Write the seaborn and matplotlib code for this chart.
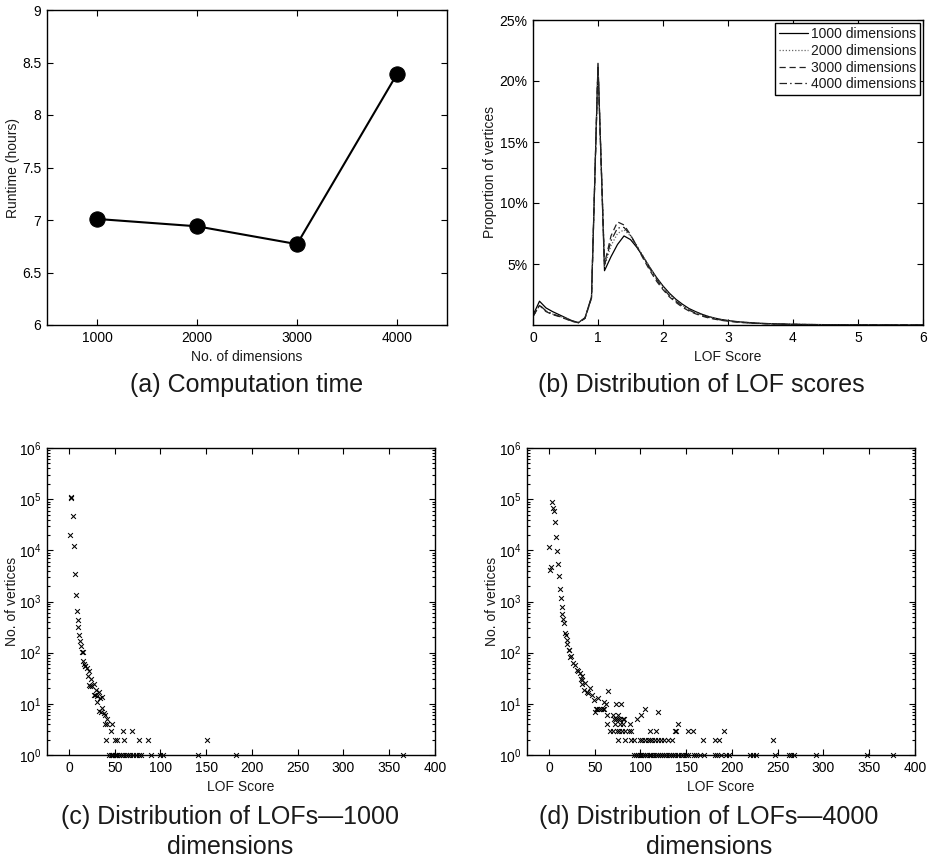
import numpy as np
import pandas as pd
import matplotlib
matplotlib.use("Agg")
import matplotlib.pyplot as plt
import seaborn as sns
from matplotlib.ticker import FuncFormatter, LogLocator, NullLocator

# ---------------- data ----------------
# (a) runtime versus dimensionality
dims = [1000, 2000, 3000, 4000]
runtime_hours = [7.01, 6.94, 6.77, 8.39]

# (b) LOF score histogram (bin centres, percentage of vertices)
lof_bins = [0.0, 0.1, 0.2, 0.3, 0.4, 0.5, 0.6, 0.7, 0.8, 0.9,
            1.0, 1.1, 1.2, 1.3, 1.4, 1.5, 1.6, 1.7, 1.8, 1.9,
            2.0, 2.1, 2.2, 2.3, 2.4, 2.5, 2.6, 2.7, 2.8, 2.9,
            3.0, 3.1, 3.2, 3.3, 3.4, 3.5, 3.6, 3.7, 3.8, 3.9,
            4.0, 4.1, 4.2, 4.3, 4.4, 4.5, 4.6, 4.7, 4.8, 4.9,
            5.0, 5.1, 5.2, 5.3, 5.4, 5.5, 5.6, 5.7, 5.8, 5.9, 6.0]
prop_1000 = [0.80, 1.95, 1.40, 1.10, 0.85, 0.60, 0.35, 0.20, 0.60, 2.30,
             21.45, 4.45, 5.60, 6.60, 7.30, 7.00, 6.35, 5.55, 4.70, 3.90,
             3.20, 2.60, 2.10, 1.70, 1.35, 1.10, 0.88, 0.70, 0.56, 0.45,
             0.37, 0.30, 0.25, 0.21, 0.17, 0.14, 0.12, 0.10, 0.085, 0.07,
             0.06, 0.05, 0.045, 0.04, 0.035, 0.03, 0.025, 0.022, 0.02, 0.017,
             0.015, 0.013, 0.012, 0.010, 0.009, 0.008, 0.007, 0.006, 0.005, 0.005, 0.004]
prop_2000 = [0.70, 1.60, 1.15, 0.90, 0.75, 0.55, 0.35, 0.20, 0.55, 2.25,
             21.30, 4.80, 6.50, 7.50, 7.80, 7.30, 6.50, 5.60, 4.70, 3.85,
             3.10, 2.50, 2.00, 1.60, 1.28, 1.02, 0.82, 0.66, 0.53, 0.43,
             0.35, 0.29, 0.24, 0.20, 0.16, 0.13, 0.11, 0.095, 0.08, 0.068,
             0.058, 0.05, 0.043, 0.038, 0.033, 0.028, 0.024, 0.021, 0.018, 0.016,
             0.014, 0.012, 0.011, 0.010, 0.009, 0.008, 0.007, 0.006, 0.005, 0.004, 0.004]
prop_3000 = [0.70, 1.60, 1.10, 0.85, 0.70, 0.50, 0.30, 0.18, 0.55, 2.20,
             21.20, 5.00, 7.30, 8.45, 8.20, 7.40, 6.40, 5.40, 4.45, 3.60,
             2.90, 2.30, 1.85, 1.45, 1.15, 0.92, 0.73, 0.58, 0.47, 0.38,
             0.31, 0.26, 0.21, 0.17, 0.14, 0.12, 0.10, 0.085, 0.07, 0.06,
             0.05, 0.043, 0.037, 0.032, 0.028, 0.024, 0.021, 0.018, 0.016, 0.014,
             0.012, 0.011, 0.010, 0.009, 0.008, 0.007, 0.006, 0.005, 0.005, 0.004, 0.003]
prop_4000 = [0.70, 1.65, 1.15, 0.90, 0.72, 0.52, 0.32, 0.19, 0.55, 2.25,
             21.30, 4.90, 6.90, 7.95, 8.00, 7.35, 6.45, 5.50, 4.60, 3.75,
             3.00, 2.40, 1.95, 1.55, 1.22, 0.97, 0.78, 0.62, 0.50, 0.40,
             0.33, 0.27, 0.22, 0.18, 0.15, 0.125, 0.105, 0.09, 0.075, 0.064,
             0.055, 0.047, 0.04, 0.035, 0.03, 0.026, 0.022, 0.019, 0.017, 0.015,
             0.013, 0.012, 0.010, 0.009, 0.008, 0.007, 0.006, 0.005, 0.005, 0.004, 0.003]
series_names = ["1000 dimensions", "2000 dimensions", "3000 dimensions", "4000 dimensions"]

# (c) LOF score vs. number of vertices, 1000 dimensions
lof_1000 = [1.8, 2.5, 4.0, 0.7, 5.0, 6.1, 7.2, 8.3, 9.4, 10.0,
            10.8, 11.9, 12.9, 14.4, 15.0, 15.8, 16.9, 17.5, 18.0, 19.4,
            20.5, 22.3, 23.7, 21.6, 23.0, 25.0, 27.3, 29.5, 27.0, 28.8,
            31.0, 33.0, 34.0, 36.0, 30.5, 32.4, 35.0, 36.3, 37.8, 39.6,
            41.4, 39.6, 42.0, 47.5, 45.7, 59.0, 69.0,
            40.3, 50.4, 52.5, 60.0, 76.0, 86.0, 150.4,
            44, 45.5, 47, 48.5, 50, 51.5, 53, 55, 57, 59, 62, 64, 67, 70,
            73, 76, 79, 90, 99, 103, 141, 182, 365]
cnt_1000 = [112000, 105000, 46000, 20000, 12000, 3500, 1350, 650, 430, 316,
            220, 170, 133, 105, 104, 69, 60, 55, 56, 51,
            35, 43, 31, 23, 22.6, 22.6, 24, 19, 15, 15,
            14, 17, 13, 13.5, 11, 7.2, 7, 8.2, 6.6, 6,
            5, 4, 4, 4, 3, 3, 3,
            2, 2, 2, 2, 2, 2, 2,
            1, 1, 1, 1, 1, 1, 1, 1, 1, 1, 1, 1, 1, 1,
            1, 1, 1, 1, 1, 1, 1, 1, 1]

# (d) LOF score vs. number of vertices, 4000 dimensions
lof_4000 = [3.6, 4.7, 5.5, 6.6, 7.7, 0.4, 8.7, 2.2, 1.5, 9.8,
            10.6, 11.7, 12.8, 13.8, 14.6, 15.3, 16.4, 17.5, 18.2, 19.3,
            20.0, 21.5, 21.9, 23.0, 24.0, 26.6, 28.4, 30.3, 32.0, 33.9,
            35.7, 35.0, 36.4, 39.3, 35.7, 38.6, 44.8, 41.2, 43.0, 46.6,
            49.5, 53.9, 60.5, 62.0, 64.8, 51.0, 53.0, 55.0, 57.0, 59.0,
            60.5, 50.3, 72.9, 78.7, 63.0, 70.5, 74.9, 104.9, 100.5, 119.5,
            95.8, 71.4, 73.2, 75.0, 77.8, 80.4, 82.2,
            63.0, 72.0, 77.5, 81.0, 88.4, 141.3,
            67, 70, 74, 77, 80, 83, 87, 90, 110.4, 117, 138, 139, 151.4, 156.9, 191,
            75, 83.5, 90, 93, 99, 102, 105, 108, 110, 113, 116, 119, 122, 126, 130, 134,
            168.6, 181.4, 185.8, 244.4,
            93, 95, 97, 99, 101, 103, 105, 107, 110, 112, 114, 117, 119, 121, 124,
            126, 128, 131, 133, 135, 138, 141, 144, 146, 150, 152, 158, 161, 165,
            169, 181, 184, 188, 193, 197, 220, 223, 226, 247, 262, 265, 268, 292,
            348, 376]
cnt_4000 = [88000, 66000, 60000, 35000, 18500, 11500, 9800, 4800, 4100, 5500,
            3100, 1750, 1170, 770, 580, 450, 375, 245, 224, 174,
            151, 113, 113, 81, 86, 62, 57, 46, 44, 40,
            35, 30, 29, 25, 24, 19, 20, 17, 16, 15,
            12, 13, 11, 10, 18, 8, 8, 8, 8, 8,
            8, 7, 10, 10, 6, 6, 6, 8, 6, 7,
            5, 5, 5, 5, 5, 5, 5,
            4, 4, 4, 4, 4, 4,
            3, 3, 3, 3, 3, 3, 3, 3, 3, 3, 3, 3, 3, 3, 3,
            2, 2, 2, 2, 2, 2, 2, 2, 2, 2, 2, 2, 2, 2, 2, 2,
            2, 2, 2, 2,
            1, 1, 1, 1, 1, 1, 1, 1, 1, 1, 1, 1, 1, 1, 1,
            1, 1, 1, 1, 1, 1, 1, 1, 1, 1, 1, 1, 1, 1,
            1, 1, 1, 1, 1, 1, 1, 1, 1, 1, 1, 1, 1, 1,
            1, 1]

# ---------------- style ----------------
sns.set_theme(style="ticks")
FONT = ["Liberation Sans", "DejaVu Sans"]
plt.rcParams.update({
    "font.family": FONT,
    "mathtext.fontset": "custom",
    "mathtext.rm": "Liberation Sans",
    "mathtext.it": "Liberation Sans:italic",
    "font.size": 10,
    "axes.labelsize": 10,
    "xtick.labelsize": 10,
    "ytick.labelsize": 10,
    "axes.edgecolor": "black",
    "axes.linewidth": 1.0,
    "xtick.color": "black",
    "ytick.color": "black",
    "text.color": "#1a1a1a",
    "axes.labelcolor": "#1a1a1a",
})

W, H = 934, 861
fig = plt.figure(figsize=(W / 100, H / 100), dpi=100)


def box(left, top, right, bottom):
    return [left / W, 1 - bottom / H, (right - left) / W, (bottom - top) / H]


def matlab_ticks(ax):
    ax.tick_params(which="both", direction="in", top=True, right=True,
                   width=0.8, pad=4)
    ax.tick_params(which="major", length=4)
    ax.tick_params(which="minor", length=2)
    for s in ax.spines.values():
        s.set_visible(True)
        s.set_color("black")
        s.set_linewidth(1.0)


# (a) computation time
ax_a = fig.add_axes(box(47, 10, 447, 325))
sns.lineplot(x=dims, y=runtime_hours, ax=ax_a, color="black", linewidth=1.5,
             marker="o", markersize=11, markeredgecolor="black")
ax_a.set_xlim(500, 4500)
ax_a.set_ylim(6, 9)
ax_a.set_xticks(dims)
ax_a.set_yticks([6, 6.5, 7, 7.5, 8, 8.5, 9])
ax_a.yaxis.set_major_formatter(FuncFormatter(lambda v, p: f"{v:g}"))
ax_a.set_xlabel("No. of dimensions", labelpad=4)
ax_a.set_ylabel("Runtime (hours)", labelpad=1.5)
matlab_ticks(ax_a)

# (b) distribution of LOF scores
dist_df = pd.concat([
    pd.DataFrame({"LOF": lof_bins, "prop": vals, "series": name})
    for name, vals in zip(series_names, [prop_1000, prop_2000, prop_3000, prop_4000])
])
ax_b = fig.add_axes(box(533, 20, 923, 325))
sns.lineplot(data=dist_df, x="LOF", y="prop", hue="series", style="series",
             palette={series_names[0]: "black", series_names[1]: "#666666",
                      series_names[2]: "#222222", series_names[3]: "#222222"},
             dashes={series_names[0]: "", series_names[1]: (1, 1.5),
                     series_names[2]: (5, 3), series_names[3]: (6, 2.5, 1.2, 2.5)},
             linewidth=0.9, ax=ax_b)
ax_b.set_xlim(0, 6)
ax_b.set_ylim(0, 25)
ax_b.set_xticks(range(0, 7))
ax_b.set_yticks([5, 10, 15, 20, 25])
ax_b.yaxis.set_major_formatter(FuncFormatter(lambda v, p: f"{v:g}%"))
ax_b.set_xlabel("LOF Score", labelpad=4)
ax_b.set_ylabel("Proportion of vertices", labelpad=2)
matlab_ticks(ax_b)
leg = ax_b.legend(loc="upper right", frameon=True, fancybox=False,
                  edgecolor="black", framealpha=1, handlelength=2.1,
                  borderaxespad=0.25, borderpad=0.25, labelspacing=0.2,
                  handletextpad=0.2, fontsize=10)
leg.get_frame().set_linewidth(1.0)


def lof_scatter(ax, xs, ys):
    sns.scatterplot(x=xs, y=ys, ax=ax, marker="x", s=12, color="black",
                    linewidth=0.75, clip_on=False, zorder=3)
    ax.set_yscale("log")
    ax.set_ylim(1, 1e6)
    ax.set_xlim(-24, 400)
    ax.set_xticks(range(0, 401, 50))
    ax.xaxis.set_minor_locator(NullLocator())
    ax.yaxis.set_major_locator(LogLocator(base=10, numticks=10))
    ax.yaxis.set_minor_locator(LogLocator(base=10, subs=np.arange(2, 10), numticks=20))
    ax.set_xlabel("LOF Score")
    ax.set_ylabel("No. of vertices", labelpad=0)
    matlab_ticks(ax)


ax_c = fig.add_axes(box(47, 448, 435, 755))
lof_scatter(ax_c, lof_1000, cnt_1000)

ax_d = fig.add_axes(box(527, 448, 915, 755))
lof_scatter(ax_d, lof_4000, cnt_4000)

# captions
cap_kw = dict(ha="center", va="center", fontsize=18, color="#1a1a1a")
fig.text(247 / W, 1 - 385 / H, "(a) Computation time", **cap_kw)
fig.text(701 / W, 1 - 385 / H, "(b) Distribution of LOF scores", **cap_kw)
fig.text(230 / W, 1 - 832 / H, "(c) Distribution of LOFs\u20141000\ndimensions",
         linespacing=1.28, **cap_kw)
fig.text(709 / W, 1 - 832 / H, "(d) Distribution of LOFs\u20144000\ndimensions",
         linespacing=1.28, **cap_kw)

fig.savefig("out.png", dpi=100)
